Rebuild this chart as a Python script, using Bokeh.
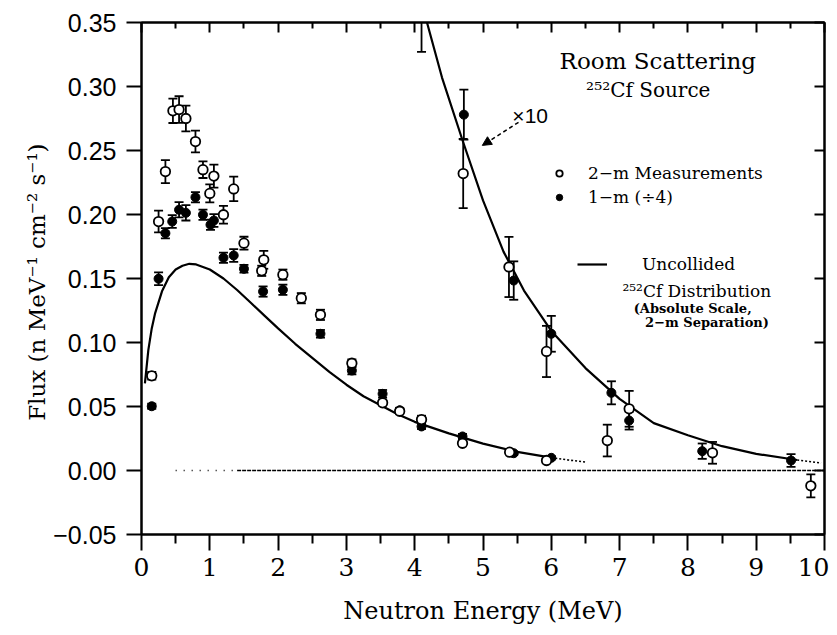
from bokeh.plotting import figure
from bokeh.models import (LinearAxis, Range1d, FixedTicker, CustomJSTickFormatter,
                          CustomLabelingPolicy, Label, Arrow, NormalHead, Legend, LegendItem)
from bokeh.embed import file_html
from bokeh.resources import INLINE

# ---------------- data ----------------
# 2-m measurements (open circles), absolute scale
open_E = [0.15, 0.25, 0.35, 0.46, 0.55, 0.65, 0.79, 0.90, 1.00, 1.06, 1.20, 1.35, 1.50,
          1.76, 1.79, 2.07, 2.34, 2.62, 3.08, 3.53, 3.78, 4.10, 4.70, 5.39, 5.93]
open_F = [0.074, 0.1945, 0.2335, 0.281, 0.282, 0.275, 0.257, 0.235, 0.2165, 0.230, 0.1998,
          0.220, 0.1776, 0.156, 0.1646, 0.153, 0.1346, 0.1216, 0.0838, 0.0529, 0.0463,
          0.0398, 0.0213, 0.0143, 0.0078]
open_err = [0.003, 0.0085, 0.009, 0.0095, 0.0104, 0.010, 0.0085, 0.0065, 0.007, 0.009, 0.007,
            0.0096, 0.005, 0.004, 0.007, 0.004, 0.004, 0.004, 0.003, 0.002, 0.002, 0.003,
            0.002, 0.0012, 0.0012]

# 1-m measurements (/4), filled circles
filled_E = [0.15, 0.25, 0.35, 0.45, 0.55, 0.65, 0.79, 0.90, 1.01, 1.06, 1.20, 1.35, 1.50,
            1.78, 2.07, 2.62, 3.08, 3.53, 3.78, 4.10, 4.70, 5.45, 6.00]
filled_F = [0.0502, 0.1498, 0.1854, 0.1945, 0.2037, 0.2013, 0.2135, 0.1998, 0.192, 0.1953,
            0.1662, 0.168, 0.1576, 0.1398, 0.1412, 0.1068, 0.0781, 0.0599, 0.047, 0.0344,
            0.0266, 0.0135, 0.0099]
filled_err = [0.002, 0.005, 0.004, 0.005, 0.006, 0.006, 0.004, 0.004, 0.004, 0.005, 0.004,
              0.005, 0.003, 0.004, 0.004, 0.003, 0.003, 0.003, 0.002, 0.002, 0.002, 0.0012,
              0.0012]

# x10 points
open_x10_E = [4.10, 4.71, 5.38, 5.93, 6.82, 7.14, 8.36, 9.80]
open_x10_F = [0.365, 0.232, 0.159, 0.093, 0.0234, 0.0482, 0.0138, -0.012]
open_x10_err = [0.038, 0.027, 0.0235, 0.020, 0.0124, 0.014, 0.0085, 0.009]

filled_x10_E = [4.72, 5.45, 6.00, 6.88, 7.14, 8.21, 9.51]
filled_x10_F = [0.278, 0.1484, 0.1068, 0.0607, 0.039, 0.0151, 0.0078]
filled_x10_err = [0.0195, 0.015, 0.014, 0.009, 0.007, 0.006, 0.005]

# uncollided 252Cf distribution (absolute scale, 2-m separation)
unc_E = [0.05, 0.1, 0.15, 0.2, 0.3, 0.4, 0.5, 0.6, 0.7, 0.8, 0.9, 1.0, 1.2, 1.4, 1.6, 1.8,
         2.0, 2.25, 2.5, 2.75, 3.0, 3.25, 3.5, 3.75, 4.0, 4.5, 5.0, 5.5, 6.0]
unc_F = [0.068, 0.094, 0.111, 0.123, 0.140, 0.151, 0.157, 0.160, 0.1615, 0.161, 0.159, 0.157,
         0.150, 0.141, 0.131, 0.121, 0.111, 0.099, 0.088, 0.077, 0.067, 0.058, 0.051, 0.044,
         0.038, 0.029, 0.021, 0.0145, 0.0100]
unc_tail_E = [6.0, 6.25, 6.5]
unc_tail_F = [0.0100, 0.0082, 0.0066]

# same distribution x10
x10_E = [4.18, 4.4, 4.7, 5.0, 5.3, 5.6, 6.0, 6.5, 7.0, 7.5, 8.0, 8.5, 9.0, 9.6]
x10_F = [0.350, 0.307, 0.258, 0.211, 0.171, 0.1406, 0.109, 0.080, 0.056, 0.037, 0.0275,
         0.019, 0.013, 0.0082]
x10_tail_E = [9.6, 9.95]
x10_tail_F = [0.0082, 0.0058]

# zero baseline
zero_sparse_E = [0.5, 1.4]
zero_dense_E = [1.4, 10.0]
zero_F = [0.0, 0.0]

x_major = [0, 1, 2, 3, 4, 5, 6, 7, 8, 9, 10]
x_minor = [0.5, 1.5, 2.5, 3.5, 4.5, 5.5, 6.5, 7.5, 8.5, 9.5]
y_major = [-0.05, 0.0, 0.05, 0.10, 0.15, 0.20, 0.25, 0.30, 0.35]

SERIF = "DejaVu Serif"
SANS = "Liberation Sans"

p = figure(width=829, height=633, x_range=Range1d(0, 10), y_range=Range1d(-0.05, 0.35),
           output_backend="svg", toolbar_location=None,
           min_border_left=141, min_border_right=5, min_border_top=22, min_border_bottom=99)
p.grid.visible = False
p.outline_line_color = "black"
p.outline_line_width = 2
p.background_fill_color = "white"
p.border_fill_color = "white"

yfmt = CustomJSTickFormatter(code="return (tick < -1e-9 ? '\\u2212' : '') + Math.abs(tick).toFixed(2);")
hide_all = CustomLabelingPolicy(code="""
const all = [...indices];
for (const i of all) indices.unset(i);
return indices;
""")

xa = p.xaxis[0]
xa.ticker = FixedTicker(ticks=x_major, minor_ticks=x_minor)
xa.axis_line_width = 2
xa.major_tick_line_width = 2
xa.minor_tick_line_width = 2
xa.major_tick_out = 16
xa.major_tick_in = 0
xa.minor_tick_out = 9
xa.minor_tick_in = 0
xa.major_label_text_font = SERIF
xa.major_label_text_font_size = "25px"
xa.major_label_text_color = "black"
xa.major_label_standoff = 7
xa.axis_label = "Neutron Energy (MeV)"
xa.axis_label_text_font = SERIF
xa.axis_label_text_font_size = "24px"
xa.axis_label_text_font_style = "normal"
xa.axis_label_text_color = "black"
xa.axis_label_standoff = 18

ya = p.yaxis[0]
ya.ticker = FixedTicker(ticks=y_major)
ya.formatter = yfmt
ya.axis_line_width = 2
ya.major_tick_line_width = 2
ya.major_tick_out = 15
ya.major_tick_in = 0
ya.minor_tick_line_color = None
ya.major_label_text_font = SANS
ya.major_label_text_font_size = "25px"
ya.major_label_text_color = "black"
ya.major_label_standoff = 10
ya.axis_label = "Flux (n  MeV\u207b\u00b9 cm\u207b\u00b2 s\u207b\u00b9)"
ya.axis_label_text_font = SERIF
ya.axis_label_text_font_size = "23px"
ya.axis_label_text_font_style = "normal"
ya.axis_label_text_color = "black"
ya.axis_label_standoff = 0

top = LinearAxis(ticker=FixedTicker(ticks=x_major, minor_ticks=x_minor),
                 major_tick_in=10, major_tick_out=0, minor_tick_in=6, minor_tick_out=0,
                 major_tick_line_width=2, minor_tick_line_width=2, axis_line_width=2,
                 major_label_text_font_size="0px", major_label_standoff=0,
                 major_label_policy=hide_all)
right = LinearAxis(ticker=FixedTicker(ticks=y_major),
                   major_tick_in=10, major_tick_out=0, minor_tick_line_color=None,
                   major_tick_line_width=2, axis_line_width=2,
                   major_label_text_font_size="0px", major_label_standoff=0,
                   major_label_policy=hide_all)
p.add_layout(top, "above")
p.add_layout(right, "right")

# zero baseline
p.line(zero_sparse_E, zero_F, line_color="black", line_width=1.5, line_dash="1 7")
p.line(zero_dense_E, zero_F, line_color="black", line_width=1.5, line_dash="4 1")

# curves
unc_r = p.line(unc_E, unc_F, line_color="black", line_width=2.2)
p.line(unc_tail_E, unc_tail_F, line_color="black", line_width=1.6, line_dash="2 2")
p.line(x10_E, x10_F, line_color="black", line_width=2.2)
p.line(x10_tail_E, x10_tail_F, line_color="black", line_width=1.6, line_dash="2 2")


def errbars(E, F, err):
    lo = [f - e for f, e in zip(F, err)]
    hi = [f + e for f, e in zip(F, err)]
    p.segment(x0=E, y0=lo, x1=E, y1=hi, line_color="black", line_width=1.8)
    p.scatter(x=E, y=lo, marker="dash", size=9, line_color="black", line_width=1.8)
    p.scatter(x=E, y=hi, marker="dash", size=9, line_color="black", line_width=1.8)


errbars(open_E, open_F, open_err)
errbars(filled_E, filled_F, filled_err)
errbars(open_x10_E, open_x10_F, open_x10_err)
errbars(filled_x10_E, filled_x10_F, filled_x10_err)

filled_r = p.scatter(filled_E, filled_F, size=9, marker="circle", fill_color="black",
                     line_color="black")
p.scatter(filled_x10_E, filled_x10_F, size=9, marker="circle", fill_color="black",
          line_color="black")
open_r = p.scatter(open_E, open_F, size=9.5, marker="circle", fill_color="white",
                   line_color="black", line_width=1.8)
p.scatter(open_x10_E, open_x10_F, size=9.5, marker="circle", fill_color="white",
          line_color="black", line_width=1.8)

# legends
leg1 = Legend(items=[LegendItem(label="2\u2212m Measurements", renderers=[open_r]),
                     LegendItem(label="1\u2212m (\u00f74)", renderers=[filled_r])],
              location=(410, 327), orientation="vertical",
              padding=0, margin=0, spacing=4, glyph_width=16, glyph_height=20,
              label_height=20, label_standoff=21, border_line_color=None,
              background_fill_alpha=0, label_text_font=SERIF, label_text_font_size="17px",
              label_text_color="black")
leg2 = Legend(items=[LegendItem(label="Uncollided", renderers=[unc_r])],
              location=(436, 260), padding=0, margin=0, glyph_width=30, glyph_height=20,
              label_height=20, label_standoff=35, border_line_color=None,
              background_fill_alpha=0, label_text_font=SERIF, label_text_font_size="17px",
              label_text_color="black")
p.add_layout(leg1)
p.add_layout(leg2)

# annotations
def note(x, y, text, size, font=SERIF, align="center", style="normal"):
    p.add_layout(Label(x=x, y=y, text=text, text_align=align, text_baseline="alphabetic",
                       text_font=font, text_font_size=size, text_font_style=style,
                       text_color="black"))


note(7.56, 0.3203, "Room Scattering", "23px")
note(7.42, 0.2974, "\u00b2\u2075\u00b2Cf Source", "20px")
note(8.13, 0.140, "\u00b2\u2075\u00b2Cf Distribution", "17px")
note(8.07, 0.1263, "(Absolute Scale,", "13px", style="bold")
note(8.28, 0.1159, "2\u2212m Separation)", "13px", style="bold")
note(5.43, 0.277, "\u00d710", "21px", font=SANS, align="left")
p.add_layout(Arrow(end=NormalHead(size=9, fill_color="black", line_color="black"),
                   x_start=5.52, y_start=0.272, x_end=4.99, y_end=0.254,
                   line_dash="4 3", line_width=1.5, line_color="black"))

open("out.html", "w").write(file_html(p, INLINE))
